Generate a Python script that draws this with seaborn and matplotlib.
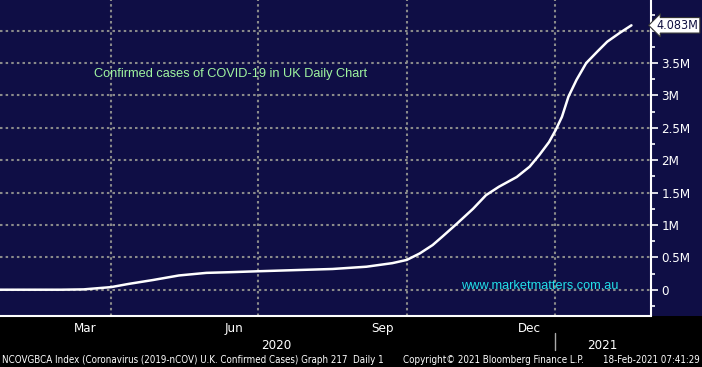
import pandas as pd
import numpy as np
import seaborn as sns
import matplotlib.pyplot as plt
import matplotlib.dates as mdates
from matplotlib.patches import Rectangle
from matplotlib.ticker import MultipleLocator, FuncFormatter

# =====================================================
# DATA (millions of cases)
# =====================================================
dates = [
    "2020-01-22", "2020-03-01", "2020-03-15", "2020-04-01", "2020-04-12",
    "2020-04-27", "2020-05-13", "2020-05-30", "2020-06-13", "2020-07-01",
    "2020-07-27", "2020-08-16", "2020-09-06", "2020-09-22", "2020-10-01",
    "2020-10-09", "2020-10-17", "2020-10-23", "2020-11-01", "2020-11-11",
    "2020-11-19", "2020-11-27", "2020-12-08", "2020-12-16", "2020-12-22",
    "2020-12-28", "2021-01-01", "2021-01-05", "2021-01-09", "2021-01-14",
    "2021-01-20", "2021-01-27", "2021-02-02", "2021-02-10", "2021-02-17",
]
cases_m = [
    0.0, 0.0, 0.005, 0.04, 0.09,
    0.15, 0.22, 0.26, 0.27, 0.285,
    0.305, 0.32, 0.355, 0.41, 0.46,
    0.56, 0.69, 0.82, 1.02, 1.25,
    1.46, 1.59, 1.74, 1.90, 2.08,
    2.28, 2.46, 2.67, 2.98, 3.24,
    3.50, 3.68, 3.83, 3.97, 4.083,
]
month_labels = ["Mar", "Jun", "Sep", "Dec"]
month_label_dates = ["2020-03-16", "2020-06-16", "2020-09-16", "2020-12-16"]
year_labels = ["2020", "2021"]
year_label_dates = ["2020-07-12", "2021-01-30"]
last_label = "4.083M"

title_txt = "Confirmed cases of COVID-19 in UK Daily Chart"
site_txt = "www.marketmatters.com.au"
footer_left = "NCOVGBCA Index (Coronavirus (2019-nCOV) U.K. Confirmed Cases) Graph 217  Daily 1"
footer_mid = "Copyright\u00a9 2021 Bloomberg Finance L.P."
footer_right = "18-Feb-2021 07:41:29"

NAVY = "#0f0e45"
GRID = "#8a8a8a"

sns.set_style("dark")
plt.rcParams["font.family"] = ["DejaVu Sans"]
plt.rcParams["font.stretch"] = "condensed"

df = pd.DataFrame({"date": pd.to_datetime(dates), "cases": np.array(cases_m) * 1e6})
last_val = df["cases"].iloc[-1]

fig = plt.figure(figsize=(7.02, 3.67), dpi=100, facecolor="black")
bot = 51 / 367
fig.patches.append(Rectangle((0, bot), 1, 1 - bot, transform=fig.transFigure,
                             facecolor=NAVY, edgecolor="none", zorder=-5))
ax = fig.add_axes([0, bot, 650.5 / 702, 1 - bot])
ax.set_facecolor(NAVY)

sns.lineplot(data=df, x="date", y="cases", color="white", lw=1.8, ax=ax)

ax.set_xlim(pd.Timestamp("2020-01-23 07:00"), pd.Timestamp("2021-02-28 19:00"))
ax.set_ylim(-0.406e6, 4.474e6)


def fmt_m(v, p):
    # the tick hidden behind the last-value tag stays blank
    if abs(v - last_val) < 0.2e6:
        return ""
    return "0" if abs(v) < 1 else f"{v/1e6:g}M"


# y axis on the right, Bloomberg style
ax.yaxis.tick_right()
ax.yaxis.set_major_locator(MultipleLocator(0.5e6))
ax.yaxis.set_minor_locator(MultipleLocator(0.25e6))
ax.yaxis.set_major_formatter(FuncFormatter(fmt_m))
ax.tick_params(axis="y", which="both", colors="white", direction="out", width=1.2)
ax.tick_params(axis="y", which="major", length=5, pad=3, labelsize=9.5, labelcolor="white")
ax.tick_params(axis="y", which="minor", length=3)

# x axis: month ticks, quarter grid
ax.xaxis.set_major_locator(mdates.MonthLocator(bymonth=[1, 4, 7, 10]))
ax.xaxis.set_minor_locator(mdates.MonthLocator())
ax.xaxis.set_major_formatter(plt.NullFormatter())
ax.tick_params(axis="x", which="both", colors="white", direction="out", length=4, width=1.2)

ax.grid(True, which="major", color=GRID, linestyle=(0, (1.2, 1.5)), linewidth=1.5)
ax.set_xlabel("")
ax.set_ylabel("")

for s in ["left", "top"]:
    ax.spines[s].set_visible(False)
for s in ["right", "bottom"]:
    ax.spines[s].set_visible(True)
    ax.spines[s].set_color("white")
    ax.spines[s].set_linewidth(1.5)

trans = ax.get_xaxis_transform()
for lab, d in zip(month_labels, month_label_dates):
    ax.text(pd.Timestamp(d), -0.039, lab, transform=trans, ha="center", va="center",
            color="white", fontsize=9.5, clip_on=False)
for lab, d in zip(year_labels, year_label_dates):
    ax.text(pd.Timestamp(d), -0.094, lab, transform=trans, ha="center", va="center",
            color="white", fontsize=9.5, clip_on=False)
ax.plot([pd.Timestamp("2021-01-01")] * 2, [-0.055, -0.108], transform=trans,
        color="#aaaaaa", lw=1, clip_on=False)

# chart annotations
ax.text(0.145, 0.765, title_txt, transform=ax.transAxes, color="#a0f5a0",
        fontsize=9.2, family=["Liberation Sans", "DejaVu Sans"], stretch="normal",
        va="center")
ax.text(0.95, 0.094, site_txt, transform=ax.transAxes, color="#22e0e8",
        fontsize=9.2, family=["Liberation Sans", "DejaVu Sans"], stretch="normal",
        va="center", ha="right")

ax.annotate(last_label, xy=(1.0, last_val), xycoords=("axes fraction", "data"),
            xytext=(4.5, 0), textcoords="offset points", ha="left", va="center",
            color="#101040", fontsize=9, annotation_clip=False, zorder=10,
            bbox=dict(boxstyle="larrow,pad=0.1", fc="white", ec="#333333", lw=0.8))

# footer
fig.text(2 / 702, 1 - 360 / 367, footer_left, color="white", fontsize=7, va="center")
fig.text(403 / 702, 1 - 360 / 367, footer_mid, color="white", fontsize=7, va="center")
fig.text(700 / 702, 1 - 360 / 367, footer_right, color="white", fontsize=7,
         va="center", ha="right")

fig.savefig("out.png", dpi=100, facecolor=fig.get_facecolor())
